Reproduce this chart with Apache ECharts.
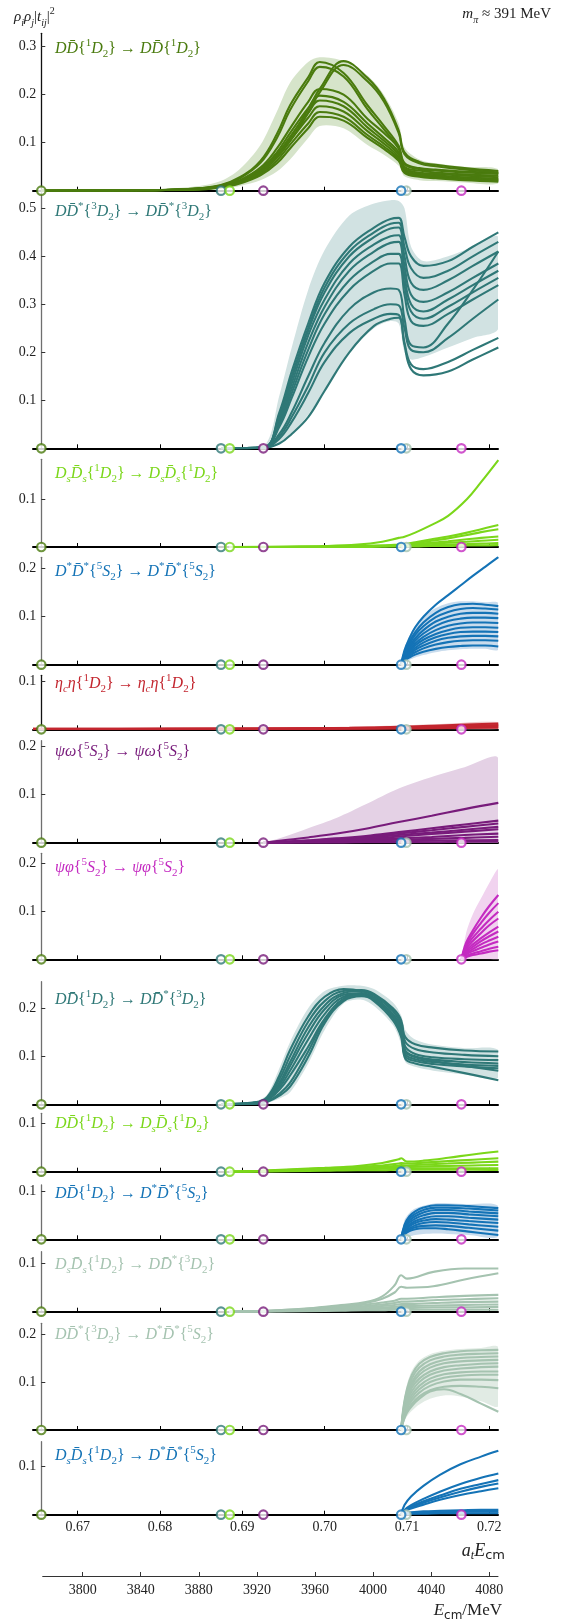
<!DOCTYPE html>
<html>
<head>
<meta charset="utf-8">
<script src="https://cdn.jsdelivr.net/npm/echarts@6/dist/echarts.min.js"></script>
<style>
  html, body { margin: 0; padding: 0; background: #fff; }
  #chart { width: 562px; height: 1624px; }
</style>
</head>
<body>
<div id="chart"></div>
<script>
// ---------- energy axes ----------
const atTicks = [0.67, 0.68, 0.69, 0.70, 0.71, 0.72];
const mevTicks = [3800, 3840, 3880, 3920, 3960, 4000, 4040, 4080];

// kinematic thresholds (a_t E_cm): DD, DD*, DsDs, psi omega, (extra), D*D*, psi phi
const thresholds = [0.66558, 0.68741, 0.68847, 0.69255, 0.70993, 0.70929, 0.71661];

// ---------- DDbar{1D2} -> DDbar{1D2} ----------
const ddX = [0.66558, 0.678, 0.684, 0.6874, 0.6897, 0.6922, 0.6942, 0.6958, 0.698, 0.6994, 0.7023, 0.7052, 0.7072, 0.709, 0.7097, 0.7115, 0.7135, 0.717, 0.7211];
const ddCurves = [
  [0, 0.001, 0.004, 0.012, 0.028, 0.062, 0.118, 0.178, 0.236, 0.268, 0.245, 0.178, 0.135, 0.093, 0.058, 0.047, 0.044, 0.040, 0.037],
  [0, 0.001, 0.004, 0.011, 0.026, 0.058, 0.110, 0.168, 0.228, 0.258, 0.238, 0.170, 0.128, 0.088, 0.055, 0.045, 0.042, 0.038, 0.035],
  [0, 0.001, 0.003, 0.009, 0.020, 0.042, 0.075, 0.110, 0.170, 0.212, 0.270, 0.235, 0.192, 0.125, 0.080, 0.060, 0.054, 0.047, 0.041],
  [0, 0.001, 0.003, 0.009, 0.019, 0.040, 0.070, 0.104, 0.162, 0.205, 0.262, 0.228, 0.186, 0.120, 0.076, 0.057, 0.051, 0.044, 0.038],
  [0, 0.001, 0.004, 0.010, 0.022, 0.048, 0.088, 0.130, 0.185, 0.212, 0.200, 0.150, 0.120, 0.088, 0.050, 0.042, 0.038, 0.034, 0.031],
  [0, 0.001, 0.003, 0.009, 0.020, 0.044, 0.080, 0.120, 0.172, 0.198, 0.185, 0.140, 0.110, 0.080, 0.046, 0.038, 0.035, 0.031, 0.028],
  [0, 0.001, 0.003, 0.009, 0.019, 0.041, 0.075, 0.112, 0.162, 0.188, 0.176, 0.132, 0.104, 0.075, 0.043, 0.035, 0.032, 0.028, 0.025],
  [0, 0.001, 0.003, 0.008, 0.018, 0.038, 0.069, 0.104, 0.152, 0.176, 0.165, 0.124, 0.098, 0.070, 0.041, 0.033, 0.030, 0.026, 0.023],
  [0, 0.001, 0.003, 0.008, 0.017, 0.035, 0.063, 0.096, 0.140, 0.164, 0.154, 0.116, 0.092, 0.066, 0.039, 0.031, 0.028, 0.024, 0.021],
  [0, 0.001, 0.002, 0.007, 0.015, 0.032, 0.057, 0.088, 0.130, 0.154, 0.146, 0.110, 0.087, 0.062, 0.037, 0.029, 0.026, 0.022, 0.019]
];
const ddLo = [0, 0, 0.001, 0.004, 0.010, 0.022, 0.040, 0.065, 0.110, 0.135, 0.130, 0.095, 0.075, 0.052, 0.030, 0.022, 0.020, 0.017, 0.015];
const ddHi = [0, 0.002, 0.008, 0.020, 0.045, 0.095, 0.165, 0.225, 0.268, 0.278, 0.270, 0.240, 0.200, 0.140, 0.090, 0.065, 0.057, 0.050, 0.045];

// ---------- DDbar*{3D2} -> DDbar*{3D2} ----------
const dvX = [0.68741, 0.6926, 0.6945, 0.696, 0.698, 0.700, 0.703, 0.706, 0.708, 0.709, 0.7097, 0.7105, 0.712, 0.715, 0.718, 0.7211];
const dvCurves = [
  [0, 0.002, 0.075, 0.160, 0.260, 0.345, 0.420, 0.460, 0.478, 0.480, 0.440, 0.400, 0.380, 0.390, 0.420, 0.450],
  [0, 0.002, 0.070, 0.150, 0.250, 0.335, 0.410, 0.450, 0.468, 0.470, 0.420, 0.375, 0.355, 0.370, 0.400, 0.430],
  [0, 0.002, 0.065, 0.145, 0.245, 0.325, 0.400, 0.440, 0.458, 0.460, 0.400, 0.345, 0.330, 0.350, 0.380, 0.410],
  [0, 0.002, 0.060, 0.135, 0.235, 0.310, 0.385, 0.425, 0.442, 0.444, 0.380, 0.320, 0.305, 0.325, 0.355, 0.385],
  [0, 0.002, 0.055, 0.125, 0.220, 0.295, 0.370, 0.410, 0.428, 0.430, 0.360, 0.300, 0.285, 0.310, 0.340, 0.370],
  [0, 0.001, 0.050, 0.115, 0.205, 0.280, 0.350, 0.390, 0.405, 0.405, 0.340, 0.285, 0.270, 0.295, 0.325, 0.355],
  [0, 0.001, 0.045, 0.105, 0.190, 0.260, 0.330, 0.370, 0.385, 0.385, 0.320, 0.265, 0.255, 0.280, 0.310, 0.340],
  [0, 0.001, 0.030, 0.075, 0.150, 0.220, 0.290, 0.325, 0.333, 0.330, 0.270, 0.215, 0.210, 0.260, 0.330, 0.410],
  [0, 0.001, 0.025, 0.065, 0.130, 0.200, 0.260, 0.290, 0.300, 0.298, 0.250, 0.205, 0.200, 0.230, 0.270, 0.310],
  [0, 0.001, 0.020, 0.055, 0.115, 0.180, 0.240, 0.270, 0.280, 0.278, 0.220, 0.175, 0.165, 0.180, 0.205, 0.230],
  [0, 0.001, 0.010, 0.030, 0.065, 0.120, 0.200, 0.255, 0.270, 0.272, 0.215, 0.165, 0.152, 0.160, 0.185, 0.210]
];
const dvLo = [0, 0, 0.010, 0.030, 0.070, 0.120, 0.200, 0.250, 0.265, 0.260, 0.200, 0.185, 0.190, 0.210, 0.230, 0.250];
const dvHi = [0, 0.004, 0.110, 0.210, 0.330, 0.413, 0.485, 0.510, 0.517, 0.515, 0.500, 0.420, 0.390, 0.400, 0.420, 0.440];

// ---------- DsDsbar{1D2} -> DsDsbar{1D2} ----------
const ssX = [0.68847, 0.695, 0.700, 0.704, 0.707, 0.709, 0.7097, 0.711, 0.713, 0.715, 0.7173, 0.719, 0.7211];
const ssCurves = [
  [0, 0.001, 0.002, 0.005, 0.011, 0.019, 0.0215, 0.030, 0.046, 0.065, 0.100, 0.135, 0.181],
  [0, 0, 0.001, 0.002, 0.003, 0.005, 0.006, 0.010, 0.016, 0.022, 0.030, 0.037, 0.046],
  [0, 0, 0.001, 0.002, 0.003, 0.004, 0.005, 0.008, 0.013, 0.018, 0.025, 0.031, 0.037],
  [0, 0, 0, 0.001, 0.002, 0.003, 0.004, 0.006, 0.009, 0.012, 0.016, 0.019, 0.022],
  [0, 0, 0, 0.001, 0.002, 0.003, 0.003, 0.005, 0.007, 0.009, 0.011, 0.013, 0.015],
  [0, 0, 0, 0, 0.001, 0.002, 0.002, 0.003, 0.004, 0.005, 0.006, 0.007, 0.008],
  [0, 0, 0, 0, 0.001, 0.001, 0.001, 0.001, 0.002, 0.002, 0.003, 0.003, 0.004]
];

// ---------- D*D*bar{5S2} -> D*D*bar{5S2} ----------
const vvX = [0.70929, 0.7097, 0.7103, 0.711, 0.712, 0.7135, 0.715, 0.7165, 0.718, 0.7195, 0.7211];
const vvCurves = [
  [0, 0.030, 0.055, 0.078, 0.100, 0.125, 0.145, 0.165, 0.185, 0.204, 0.224],
  [0, 0.025, 0.048, 0.068, 0.088, 0.108, 0.120, 0.126, 0.127, 0.125, 0.122],
  [0, 0.022, 0.043, 0.062, 0.080, 0.099, 0.110, 0.116, 0.118, 0.117, 0.115],
  [0, 0.020, 0.038, 0.055, 0.072, 0.090, 0.100, 0.106, 0.108, 0.108, 0.106],
  [0, 0.018, 0.034, 0.050, 0.065, 0.081, 0.091, 0.096, 0.098, 0.098, 0.097],
  [0, 0.016, 0.030, 0.044, 0.058, 0.072, 0.081, 0.086, 0.088, 0.088, 0.087],
  [0, 0.014, 0.027, 0.040, 0.052, 0.064, 0.072, 0.077, 0.078, 0.078, 0.077],
  [0, 0.012, 0.024, 0.035, 0.046, 0.057, 0.064, 0.068, 0.069, 0.069, 0.068],
  [0, 0.011, 0.021, 0.031, 0.040, 0.050, 0.056, 0.059, 0.060, 0.060, 0.059],
  [0, 0.010, 0.018, 0.026, 0.034, 0.042, 0.047, 0.050, 0.051, 0.051, 0.050],
  [0, 0.008, 0.015, 0.021, 0.027, 0.033, 0.037, 0.039, 0.040, 0.040, 0.038]
];
const vvLo = [0, 0.005, 0.010, 0.015, 0.020, 0.026, 0.030, 0.032, 0.033, 0.033, 0.032];
const vvHi = [0, 0.035, 0.060, 0.080, 0.100, 0.118, 0.128, 0.132, 0.132, 0.130, 0.128];

// ---------- eta_c eta{1D2} -> eta_c eta{1D2} ----------
const eeX = [0.66457, 0.675, 0.685, 0.695, 0.703, 0.709, 0.714, 0.7211];
const eeCurves = [
  [0.0010, 0.0012, 0.0015, 0.0020, 0.0030, 0.0050, 0.0080, 0.0120],
  [0.0008, 0.0010, 0.0012, 0.0016, 0.0024, 0.0040, 0.0060, 0.0090],
  [0.0005, 0.0006, 0.0008, 0.0011, 0.0017, 0.0028, 0.0040, 0.0060],
  [0.0003, 0.0004, 0.0005, 0.0007, 0.0010, 0.0016, 0.0024, 0.0035]
];
const eeLo = [0, 0, 0, 0, 0, 0, 0, 0];
const eeHi = [0.0020, 0.0024, 0.0030, 0.0040, 0.0055, 0.0080, 0.0110, 0.0150];

// ---------- psi omega{5S2} -> psi omega{5S2} ----------
const woX = [0.69255, 0.695, 0.698, 0.7015, 0.705, 0.709, 0.713, 0.717, 0.7211];
const woCurves = [
  [0, 0.005, 0.011, 0.019, 0.029, 0.043, 0.056, 0.070, 0.083],
  [0, 0.002, 0.005, 0.009, 0.014, 0.022, 0.030, 0.038, 0.046],
  [0, 0.002, 0.004, 0.008, 0.012, 0.019, 0.026, 0.033, 0.040],
  [0, 0.001, 0.003, 0.006, 0.010, 0.016, 0.021, 0.027, 0.033],
  [0, 0.001, 0.003, 0.005, 0.008, 0.013, 0.018, 0.023, 0.028],
  [0, 0.001, 0.002, 0.004, 0.006, 0.009, 0.012, 0.016, 0.019],
  [0, 0.001, 0.001, 0.002, 0.004, 0.006, 0.008, 0.010, 0.0125],
  [0, 0, 0.001, 0.001, 0.002, 0.003, 0.004, 0.005, 0.0056],
  [0, 0, 0, 0, 0.001, 0.001, 0.001, 0.002, 0.002]
];
const woLo = [0, 0, 0, 0, 0, 0, 0, 0, 0];
const woHi = [0, 0.012, 0.030, 0.052, 0.080, 0.113, 0.137, 0.157, 0.176];

// ---------- psi phi{5S2} -> psi phi{5S2} ----------
const phX = [0.71661, 0.7172, 0.718, 0.719, 0.720, 0.7211];
const phCurves = [
  [0, 0.035, 0.060, 0.087, 0.111, 0.134],
  [0, 0.030, 0.053, 0.076, 0.097, 0.117],
  [0, 0.026, 0.045, 0.064, 0.082, 0.099],
  [0, 0.022, 0.038, 0.055, 0.071, 0.085],
  [0, 0.018, 0.031, 0.044, 0.056, 0.068],
  [0, 0.015, 0.026, 0.038, 0.048, 0.058],
  [0, 0.012, 0.021, 0.031, 0.039, 0.047],
  [0, 0.010, 0.017, 0.024, 0.031, 0.037],
  [0, 0.007, 0.012, 0.017, 0.022, 0.026],
  [0, 0.005, 0.009, 0.012, 0.016, 0.019]
];
const phLo = [0, 0, 0, 0, 0, 0];
const phHi = [0, 0.056, 0.094, 0.127, 0.159, 0.187];

// ---------- DDbar{1D2} -> DDbar*{3D2} ----------
const dxX = [0.68741, 0.6915, 0.693, 0.6945, 0.6958, 0.698, 0.700, 0.7023, 0.7045, 0.706, 0.7083, 0.7093, 0.7098, 0.711, 0.7132, 0.717, 0.7211];
const dxCurves = [
  [0, 0.004, 0.015, 0.060, 0.113, 0.183, 0.224, 0.240, 0.236, 0.226, 0.195, 0.170, 0.140, 0.125, 0.118, 0.112, 0.110],
  [0, 0.003, 0.013, 0.052, 0.100, 0.172, 0.215, 0.236, 0.238, 0.230, 0.200, 0.175, 0.130, 0.115, 0.108, 0.103, 0.100],
  [0, 0.003, 0.011, 0.045, 0.088, 0.160, 0.206, 0.232, 0.236, 0.228, 0.195, 0.165, 0.120, 0.105, 0.098, 0.094, 0.092],
  [0, 0.003, 0.010, 0.040, 0.080, 0.148, 0.198, 0.228, 0.232, 0.222, 0.188, 0.158, 0.112, 0.100, 0.093, 0.088, 0.085],
  [0, 0.002, 0.009, 0.035, 0.070, 0.135, 0.188, 0.224, 0.230, 0.220, 0.183, 0.150, 0.105, 0.094, 0.088, 0.083, 0.080],
  [0, 0.002, 0.008, 0.030, 0.060, 0.120, 0.178, 0.220, 0.228, 0.218, 0.180, 0.145, 0.100, 0.090, 0.084, 0.079, 0.075],
  [0, 0.001, 0.005, 0.018, 0.037, 0.099, 0.169, 0.215, 0.225, 0.220, 0.185, 0.155, 0.110, 0.098, 0.090, 0.080, 0.070],
  [0, 0.001, 0.006, 0.022, 0.045, 0.110, 0.175, 0.218, 0.226, 0.215, 0.175, 0.140, 0.095, 0.085, 0.078, 0.065, 0.050]
];
const dxLo = [0, 0, 0.003, 0.012, 0.025, 0.085, 0.155, 0.210, 0.218, 0.205, 0.165, 0.125, 0.088, 0.078, 0.070, 0.062, 0.055];
const dxHi = [0, 0.006, 0.020, 0.075, 0.130, 0.200, 0.236, 0.247, 0.247, 0.240, 0.212, 0.185, 0.155, 0.135, 0.124, 0.117, 0.113];

// ---------- DDbar{1D2} -> DsDsbar{1D2} ----------
const dsX = [0.68847, 0.692, 0.696, 0.700, 0.704, 0.707, 0.709, 0.7093, 0.710, 0.712, 0.715, 0.718, 0.7211];
const dsCurves = [
  [0, 0.002, 0.005, 0.008, 0.012, 0.018, 0.026, 0.028, 0.021, 0.023, 0.029, 0.036, 0.042],
  [0, 0.001, 0.004, 0.007, 0.010, 0.013, 0.017, 0.018, 0.017, 0.019, 0.022, 0.025, 0.028],
  [0, 0.001, 0.003, 0.006, 0.008, 0.010, 0.013, 0.014, 0.013, 0.015, 0.017, 0.019, 0.021],
  [0, 0.001, 0.003, 0.005, 0.007, 0.008, 0.010, 0.011, 0.010, 0.011, 0.012, 0.013, 0.014],
  [0, 0.001, 0.002, 0.004, 0.005, 0.006, 0.007, 0.008, 0.007, 0.007, 0.007, 0.007, 0.007],
  [0, 0, 0.001, 0.002, 0.003, 0.003, 0.004, 0.004, 0.004, 0.004, 0.004, 0.004, 0.0035]
];

// ---------- DDbar{1D2} -> D*D*bar{5S2} ----------
const dvvX = [0.70929, 0.7097, 0.7103, 0.711, 0.712, 0.7135, 0.715, 0.7175, 0.7211];
const dvvCurves = [
  [0, 0.030, 0.048, 0.058, 0.066, 0.071, 0.071, 0.069, 0.065],
  [0, 0.027, 0.044, 0.053, 0.061, 0.066, 0.066, 0.064, 0.060],
  [0, 0.024, 0.039, 0.048, 0.056, 0.061, 0.061, 0.058, 0.054],
  [0, 0.021, 0.035, 0.043, 0.050, 0.055, 0.055, 0.052, 0.048],
  [0, 0.018, 0.030, 0.038, 0.044, 0.048, 0.048, 0.045, 0.041],
  [0, 0.016, 0.027, 0.034, 0.039, 0.042, 0.041, 0.038, 0.034],
  [0, 0.014, 0.023, 0.029, 0.034, 0.036, 0.035, 0.031, 0.026],
  [0, 0.012, 0.020, 0.025, 0.028, 0.029, 0.028, 0.024, 0.018],
  [0, 0.010, 0.017, 0.021, 0.023, 0.023, 0.021, 0.016, 0.009]
];
const dvvLo = [0, 0.003, 0.006, 0.009, 0.011, 0.012, 0.011, 0.009, 0.006];
const dvvHi = [0, 0.040, 0.055, 0.064, 0.070, 0.075, 0.075, 0.073, 0.069];

// ---------- DsDsbar{1D2} -> DDbar*{3D2} ----------
const sdX = [0.68847, 0.693, 0.698, 0.702, 0.705, 0.707, 0.7085, 0.7093, 0.710, 0.7132, 0.717, 0.7211];
const sdCurves = [
  [0, 0.002, 0.007, 0.014, 0.020, 0.032, 0.055, 0.076, 0.069, 0.083, 0.090, 0.090],
  [0, 0.002, 0.006, 0.012, 0.018, 0.027, 0.040, 0.052, 0.050, 0.053, 0.067, 0.080],
  [0, 0.001, 0.005, 0.010, 0.015, 0.019, 0.023, 0.027, 0.027, 0.030, 0.033, 0.035],
  [0, 0.001, 0.004, 0.008, 0.012, 0.015, 0.018, 0.021, 0.021, 0.024, 0.026, 0.028],
  [0, 0.001, 0.003, 0.007, 0.010, 0.012, 0.014, 0.016, 0.016, 0.018, 0.020, 0.021],
  [0, 0.001, 0.003, 0.005, 0.007, 0.009, 0.010, 0.012, 0.012, 0.013, 0.014, 0.015],
  [0, 0.001, 0.002, 0.004, 0.005, 0.006, 0.007, 0.008, 0.008, 0.009, 0.009, 0.010],
  [0, 0, 0.001, 0.002, 0.003, 0.003, 0.004, 0.004, 0.004, 0.004, 0.004, 0.004]
];

// ---------- DDbar*{3D2} -> D*D*bar{5S2} ----------
const xvX = [0.70929, 0.7096, 0.710, 0.7106, 0.7115, 0.7128, 0.7145, 0.7165, 0.719, 0.7211];
const xvCurves = [
  [0, 0.050, 0.085, 0.115, 0.138, 0.152, 0.160, 0.164, 0.166, 0.167],
  [0, 0.046, 0.080, 0.108, 0.130, 0.145, 0.153, 0.157, 0.159, 0.160],
  [0, 0.043, 0.075, 0.100, 0.122, 0.137, 0.146, 0.150, 0.152, 0.153],
  [0, 0.040, 0.070, 0.094, 0.115, 0.130, 0.139, 0.143, 0.145, 0.146],
  [0, 0.037, 0.065, 0.088, 0.107, 0.122, 0.131, 0.135, 0.138, 0.139],
  [0, 0.034, 0.060, 0.081, 0.100, 0.115, 0.124, 0.128, 0.131, 0.132],
  [0, 0.031, 0.055, 0.074, 0.092, 0.107, 0.116, 0.120, 0.122, 0.122],
  [0, 0.028, 0.050, 0.068, 0.085, 0.100, 0.109, 0.113, 0.115, 0.115],
  [0, 0.025, 0.045, 0.062, 0.078, 0.092, 0.101, 0.105, 0.105, 0.104],
  [0, 0.022, 0.040, 0.055, 0.070, 0.083, 0.090, 0.092, 0.090, 0.087],
  [0, 0.020, 0.036, 0.050, 0.065, 0.080, 0.085, 0.075, 0.055, 0.038]
];
const xvLo = [0, 0.015, 0.028, 0.040, 0.053, 0.065, 0.072, 0.070, 0.060, 0.050];
const xvHi = [0, 0.060, 0.095, 0.124, 0.145, 0.158, 0.165, 0.169, 0.171, 0.172];

// ---------- DsDsbar{1D2} -> D*D*bar{5S2} ----------
const svX = [0.70929, 0.7097, 0.7105, 0.712, 0.714, 0.7165, 0.719, 0.7211];
const svCurves = [
  [0, 0.020, 0.038, 0.060, 0.083, 0.105, 0.121, 0.133],
  [0, 0.010, 0.020, 0.033, 0.048, 0.064, 0.077, 0.086],
  [0, 0.009, 0.017, 0.028, 0.040, 0.054, 0.064, 0.072],
  [0, 0.008, 0.015, 0.025, 0.036, 0.048, 0.058, 0.065],
  [0, 0.007, 0.013, 0.021, 0.031, 0.041, 0.049, 0.055],
  [0, 0.003, 0.005, 0.007, 0.008, 0.009, 0.010, 0.010],
  [0, 0.002, 0.003, 0.004, 0.005, 0.006, 0.006, 0.006],
  [0, 0.001, 0.002, 0.002, 0.003, 0.003, 0.003, 0.003]
];

// ---------- colours ----------
const C = {
  dd: '#4a7b0e', ddBand: '#d6e4ca',
  dv: '#2f7877', dvBand: '#d1e2e2',
  ss: '#7bd71a',
  vv: '#1473b6', vvBand: '#c9dced',
  ee: '#c3262f', eeBand: '#eec5c7',
  wo: '#781b7b', woBand: '#e4d1e5',
  ph: '#c42bc1', phBand: '#f1d3ef',
  gg: '#a5c3b0', ggBand: '#e1ebe4'
};
const thresholdColors = [C.dd, C.dv, C.ss, C.wo, C.gg, C.vv, C.ph];

// ---------- title pieces (rich text) ----------
const chDD = '{i|D}{i|D\u0304}';
const chDV = '{i|D}{i|D\u0304}{sup|*}';
const chSS = '{i|D}{subi|s}{i|D\u0304}{subi|s}';
const chVV = '{i|D}{sup|*}{i|D\u0304}{sup|*}';
const chEE = '{i|\u03b7}{subi|c}{i|\u03b7}';
const chWO = '{i|\u03c8\u03c9}';
const chPH = '{i|\u03c8\u03c6}';
const pw = (s, L) => '{' + '{sup|' + s + '}{i|' + L + '}{sub|2}' + '}';
const arrow = ' \u2192 ';

const panels = [
  { xs: ddX,  curves: ddCurves,  lo: ddLo,  hi: ddHi,  color: C.dd, band: C.ddBand, title: chDD + pw(1, 'D') + arrow + chDD + pw(1, 'D') },
  { xs: dvX,  curves: dvCurves,  lo: dvLo,  hi: dvHi,  color: C.dv, band: C.dvBand, title: chDV + pw(3, 'D') + arrow + chDV + pw(3, 'D') },
  { xs: ssX,  curves: ssCurves,  color: C.ss, title: chSS + pw(1, 'D') + arrow + chSS + pw(1, 'D') },
  { xs: vvX,  curves: vvCurves,  lo: vvLo,  hi: vvHi,  color: C.vv, band: C.vvBand, title: chVV + pw(5, 'S') + arrow + chVV + pw(5, 'S') },
  { xs: eeX,  curves: eeCurves,  lo: eeLo,  hi: eeHi,  color: C.ee, band: C.eeBand, title: chEE + pw(1, 'D') + arrow + chEE + pw(1, 'D') },
  { xs: woX,  curves: woCurves,  lo: woLo,  hi: woHi,  color: C.wo, band: C.woBand, title: chWO + pw(5, 'S') + arrow + chWO + pw(5, 'S') },
  { xs: phX,  curves: phCurves,  lo: phLo,  hi: phHi,  color: C.ph, band: C.phBand, title: chPH + pw(5, 'S') + arrow + chPH + pw(5, 'S') },
  { xs: dxX,  curves: dxCurves,  lo: dxLo,  hi: dxHi,  color: C.dv, band: C.dvBand, title: chDD + pw(1, 'D') + arrow + chDV + pw(3, 'D') },
  { xs: dsX,  curves: dsCurves,  color: C.ss, title: chDD + pw(1, 'D') + arrow + chSS + pw(1, 'D') },
  { xs: dvvX, curves: dvvCurves, lo: dvvLo, hi: dvvHi, color: C.vv, band: C.vvBand, title: chDD + pw(1, 'D') + arrow + chVV + pw(5, 'S') },
  { xs: sdX,  curves: sdCurves,  color: C.gg, title: chSS + pw(1, 'D') + arrow + chDV + pw(3, 'D') },
  { xs: xvX,  curves: xvCurves,  lo: xvLo,  hi: xvHi,  color: C.gg, band: C.ggBand, title: chDV + pw(3, 'D') + arrow + chVV + pw(5, 'S') },
  { xs: svX,  curves: svCurves,  color: C.vv, title: chSS + pw(1, 'D') + arrow + chVV + pw(5, 'S') }
];

// ---------- layout of the stacked panels ----------
const layout = [
  { top: 33.3,   height: 157.4, ymax: 0.3279, titleY: 48.3,   axis: '#111' },
  { top: 192.0,  height: 256.3, ymax: 0.5340, titleY: 211.7,  axis: '#6f6f6f' },
  { top: 459.3,  height: 87.7,  ymax: 0.1827, titleY: 473.3,  axis: '#6f6f6f' },
  { top: 557.3,  height: 107.4, ymax: 0.2238, titleY: 571.7,  axis: '#6f6f6f' },
  { top: 675.3,  height: 54.0,  ymax: 0.1125, titleY: 683.3,  axis: '#111' },
  { top: 740.7,  height: 102.0, ymax: 0.2125, titleY: 751.7,  axis: '#6f6f6f' },
  { top: 853.3,  height: 106.0, ymax: 0.2208, titleY: 867.7,  axis: '#6f6f6f' },
  { top: 981.7,  height: 122.6, ymax: 0.2554, titleY: 1000.0, axis: '#6f6f6f' },
  { top: 1113.3, height: 58.4,  ymax: 0.1217, titleY: 1123.3, axis: '#6f6f6f' },
  { top: 1185.0, height: 54.3,  ymax: 0.1131, titleY: 1193.3, axis: '#6f6f6f' },
  { top: 1251.7, height: 60.0,  ymax: 0.1250, titleY: 1265.0, axis: '#6f6f6f' },
  { top: 1323.3, height: 106.7, ymax: 0.2223, titleY: 1334.3, axis: '#6f6f6f' },
  { top: 1441.7, height: 73.0,  ymax: 0.1521, titleY: 1455.7, axis: '#6f6f6f' }
];
const gridLeft = 33, gridRight = 64;
const xMin = 0.66457, xMax = 0.72106;
const mevMin = 3772.5, mevMax = 4086;

const SERIF = "'Liberation Serif', 'DejaVu Serif', serif";
const SANS = "'DejaVu Sans', sans-serif";

function richStyles(color, size) {
  const small = Math.round(size * 0.68);
  return {
    i:    { fontFamily: SERIF, fontStyle: 'italic', fontSize: size, color: color, lineHeight: 22 },
    sup:  { fontFamily: SERIF, fontSize: small, color: color, verticalAlign: 'top', lineHeight: 11 },
    sub:  { fontFamily: SERIF, fontSize: small, color: color, verticalAlign: 'bottom', lineHeight: 13 },
    subi: { fontFamily: SERIF, fontStyle: 'italic', fontSize: small, color: color, verticalAlign: 'bottom', lineHeight: 13 },
    cms:  { fontFamily: SANS, fontSize: Math.round(size * 0.7), color: color, verticalAlign: 'bottom', lineHeight: 14 }
  };
}

const grids = [], xAxes = [], yAxes = [], series = [], titles = [];

panels.forEach((p, k) => {
  const L = layout[k];
  grids.push({ left: gridLeft, right: gridRight, top: L.top, height: L.height, outerBoundsMode: 'none' });

  xAxes.push({
    type: 'value', gridIndex: k, min: xMin, max: xMax,
    axisLine: { show: true, onZero: false, lineStyle: { color: '#000', width: 2 } },
    axisTick: { show: true, inside: true, length: 4, customValues: atTicks, lineStyle: { color: '#000', width: 1 } },
    axisLabel: { show: k === panels.length - 1, customValues: atTicks, formatter: v => v.toFixed(2),
                 fontFamily: SERIF, fontSize: 14, color: '#222', margin: 6 },
    splitLine: { show: false }
  });

  const yt = [];
  for (let t = 1; t / 10 <= L.ymax + 1e-9; t++) yt.push(t / 10);
  yAxes.push({
    type: 'value', gridIndex: k, min: 0, max: L.ymax, offset: -8.3,
    axisLine: { show: true, onZero: false, lineStyle: { color: L.axis, width: 1.3 } },
    axisTick: { show: true, inside: true, length: 4, customValues: yt, lineStyle: { color: '#333', width: 1 } },
    axisLabel: { customValues: yt, formatter: v => v.toFixed(1), fontFamily: SERIF, fontSize: 14, color: '#222', margin: 5 },
    splitLine: { show: false }
  });

  // error band, drawn as one closed outline through the upper and lower edges
  if (p.hi) {
    series.push({
      type: 'custom', xAxisIndex: k, yAxisIndex: k, z: 1, silent: true, animation: false, clip: true,
      data: [[p.xs[0], 0]],
      renderItem: (params, api) => {
        const upper = p.xs.map((x, i) => api.coord([x, p.hi[i]]));
        const lower = p.xs.map((x, i) => api.coord([x, p.lo[i]])).reverse();
        return { type: 'polygon', shape: { points: upper.concat(lower), smooth: 0.3 },
                 style: { fill: p.band, stroke: null } };
      }
    });
  }

  // individual parameterisation curves
  p.curves.forEach(c => {
    series.push({
      type: 'line', xAxisIndex: k, yAxisIndex: k, symbol: 'none', showSymbol: false,
      smooth: 0.4, silent: true, animation: false, z: 3,
      lineStyle: { color: p.color, width: 2.1 },
      data: p.xs.map((x, i) => [x, c[i]])
    });
  });

  // threshold markers
  series.push({
    type: 'scatter', xAxisIndex: k, yAxisIndex: k, z: 10, clip: false, silent: true, animation: false,
    symbol: 'circle', symbolSize: 8.5,
    itemStyle: { color: '#fff', borderWidth: 2.2 },
    data: thresholds.map((t, i) => ({ value: [t, 0], itemStyle: { borderColor: thresholdColors[i] } }))
  });

  titles.push({
    text: p.title, left: 55, top: L.titleY - 11, padding: 0,
    textStyle: { fontFamily: SERIF, fontWeight: 'normal', fontSize: 16, color: p.color, lineHeight: 22,
                 rich: richStyles(p.color, 16) }
  });
});

// energy axis in physical units
const mk = panels.length;
grids.push({ left: 42.7, right: gridRight, top: 1575, height: 1, outerBoundsMode: 'none' });
xAxes.push({
  type: 'value', gridIndex: mk, min: mevMin, max: mevMax,
  axisLine: { show: true, onZero: false, lineStyle: { color: '#333', width: 1 } },
  axisTick: { show: true, inside: true, length: 4, customValues: mevTicks, lineStyle: { color: '#333', width: 1 } },
  axisLabel: { customValues: mevTicks, formatter: v => String(v), fontFamily: SERIF, fontSize: 14, color: '#222', margin: 7 },
  splitLine: { show: false }
});
yAxes.push({ type: 'value', gridIndex: mk, min: 0, max: 1, show: false });

// axis captions and header
const ink = '#222';
titles.push({
  text: '{i|\u03c1}{subi|i}{i|\u03c1}{subi|j}|{i|t}{subi|ij}|{sup|2}',
  left: 14, top: 6, padding: 0,
  textStyle: { fontFamily: SERIF, fontWeight: 'normal', fontSize: 15, color: ink, lineHeight: 22, rich: richStyles(ink, 15) }
});
titles.push({
  text: '{i|m}{subi|\u03c0} \u2248 391 MeV',
  right: 11, top: 3, padding: 0,
  textStyle: { fontFamily: SERIF, fontWeight: 'normal', fontSize: 15, color: ink, lineHeight: 22, rich: richStyles(ink, 15) }
});
titles.push({
  text: '{i|a}{subi|t}{i|E}{cms|cm}',
  right: 57, top: 1540, padding: 0,
  textStyle: { fontFamily: SERIF, fontWeight: 'normal', fontSize: 18, color: ink, lineHeight: 22, rich: richStyles(ink, 18) }
});
titles.push({
  text: '{i|E}{cms|cm}/MeV',
  right: 60, top: 1600, padding: 0,
  textStyle: { fontFamily: SERIF, fontWeight: 'normal', fontSize: 17, color: ink, lineHeight: 22, rich: richStyles(ink, 17) }
});

const chart = echarts.init(document.getElementById('chart'), null, { renderer: 'canvas' });
chart.setOption({
  animation: false,
  backgroundColor: '#fff',
  title: titles,
  grid: grids,
  xAxis: xAxes,
  yAxis: yAxes,
  series: series
});
</script>
</body>
</html>
